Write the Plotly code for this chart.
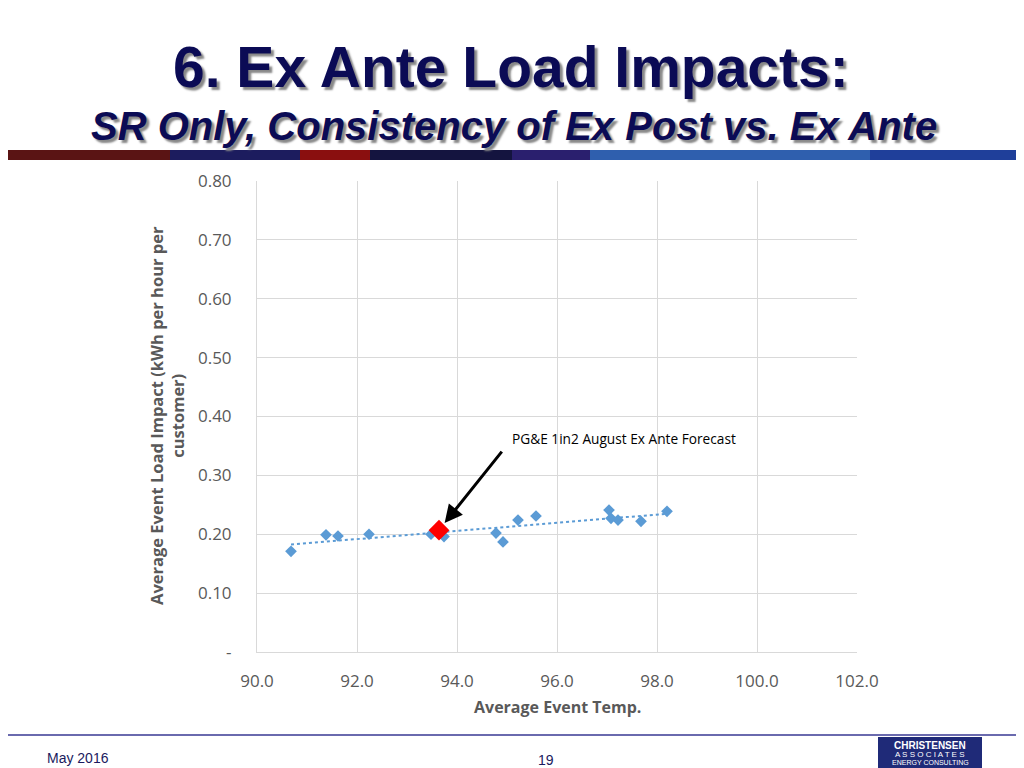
import numpy as np
import plotly.graph_objects as go

# ---- data ----
temps = [90.68, 91.38, 91.62, 92.24, 93.48, 93.74, 94.78, 94.92, 95.22, 95.58,
         97.04, 97.08, 97.22, 97.68, 98.20]
impacts = [0.171, 0.199, 0.197, 0.200, 0.200, 0.196, 0.202, 0.187, 0.224, 0.231,
           0.241, 0.227, 0.224, 0.222, 0.239]
forecast_temp = [93.64]
forecast_impact = [0.207]
x_ticks = [90, 92, 94, 96, 98, 100, 102]
x_tick_labels = ["90.0", "92.0", "94.0", "96.0", "98.0", "100.0", "102.0"]
y_ticks = [0, 0.1, 0.2, 0.3, 0.4, 0.5, 0.6, 0.7, 0.8]
y_tick_labels = ["-", "0.10", "0.20", "0.30", "0.40", "0.50", "0.60", "0.70", "0.80"]

# linear trendline through ex post points
slope, intercept = np.polyfit(temps, impacts, 1)
trend_x = [min(temps), max(temps)]
trend_y = [slope * v + intercept for v in trend_x]

# page offset of the figure (browser body margin)
OFF = 8
W, H = 1024 - OFF, 768 - OFF
L, R, T, B = 257, 857, 181, 652   # plot area in page pixels
pw, ph = R - L, B - T


def px(x):
    return (x - L) / pw


def py(y):
    return (B - y) / ph


fig = go.Figure()
fig.add_trace(go.Scatter(x=trend_x, y=trend_y, mode="lines",
                         line=dict(color="#5B9BD5", width=2, dash="dot"),
                         hoverinfo="skip", showlegend=False))
fig.add_trace(go.Scatter(x=temps, y=impacts, mode="markers",
                         marker=dict(symbol="diamond", size=9, color="#5B9BD5"),
                         showlegend=False))
fig.add_trace(go.Scatter(x=forecast_temp, y=forecast_impact, mode="markers",
                         marker=dict(symbol="diamond", size=16, color="#FF0000"),
                         showlegend=False))

tickfont = dict(family="Open Sans, Liberation Sans, sans-serif", size=17, color="#595959")
fig.update_xaxes(range=[90, 102], tickvals=x_ticks, ticktext=x_tick_labels,
                 showgrid=True, gridcolor="#D9D9D9", gridwidth=1,
                 showline=True, linecolor="#D9D9D9", linewidth=1,
                 zeroline=False, tickfont=tickfont, ticklabelstandoff=14,
                 mirror=False)
fig.update_yaxes(range=[0, 0.8], tickvals=y_ticks, ticktext=y_tick_labels,
                 showgrid=True, gridcolor="#D9D9D9", gridwidth=1,
                 showline=True, linecolor="#D9D9D9", linewidth=1,
                 zeroline=False, tickfont=tickfont, ticklabelstandoff=21)

title_color = "#0B0B55"
shapes = []
# decorative banner strip
banner = [(0, 170, "#5a1414"), (170, 300, "#1c1c5e"), (300, 370, "#8a0f0f"),
          (370, 512, "#14143f"), (512, 590, "#2a1f6e"), (590, 870, "#2f5fae"),
          (870, 1024, "#1f3f9a")]
for x0, x1, c in banner:
    shapes.append(dict(type="rect", xref="paper", yref="paper",
                       x0=px(x0), x1=px(x1), y0=py(160), y1=py(150),
                       fillcolor=c, line=dict(width=0), layer="above"))
# footer line
shapes.append(dict(type="line", xref="paper", yref="paper",
                   x0=px(0), x1=px(1024), y0=py(735), y1=py(735),
                   line=dict(color="#6A6AAE", width=2)))
# logo box
shapes.append(dict(type="rect", xref="paper", yref="paper",
                   x0=px(878), x1=px(982), y0=py(768), y1=py(737),
                   fillcolor="#1F2A78", line=dict(width=0)))
fig.update_layout(shapes=shapes)

ann = []
ann.append(dict(text="6. Ex Ante Load Impacts:", xref="paper", yref="paper",
                x=px(511), y=py(67), showarrow=False, xanchor="center", yanchor="middle",
                font=dict(family="Liberation Sans, Arial, sans-serif", size=57,
                          color=title_color, weight="bold",
                          shadow="3px 3px 2px #888888")))
ann.append(dict(text="<i>SR Only, Consistency of Ex Post vs. Ex Ante</i>", xref="paper",
                yref="paper", x=px(514), y=py(126), showarrow=False,
                xanchor="center", yanchor="middle",
                font=dict(family="Liberation Sans, Arial, sans-serif", size=40,
                          color=title_color, weight="bold",
                          shadow="3px 3px 2px #888888")))
ann.append(dict(text="Average Event Temp.", xref="paper", yref="paper",
                x=px(557), y=py(707), showarrow=False, xanchor="center", yanchor="middle",
                font=dict(family="Open Sans, sans-serif", size=16, color="#595959",
                          weight="bold")))
ann.append(dict(text="Average Event Load Impact (kWh per hour per<br>customer)",
                xref="paper", yref="paper", x=px(167), y=py(416), showarrow=False,
                xanchor="center", yanchor="middle", textangle=-90,
                font=dict(family="Open Sans, sans-serif", size=16.5, color="#595959",
                          weight="bold")))
ann.append(dict(text="PG&E 1in2 August Ex Ante Forecast", xref="paper", yref="paper",
                x=px(510), y=py(438), showarrow=False, xanchor="left", yanchor="middle",
                font=dict(family="Open Sans, sans-serif", size=13.7, color="#000000")))
ann.append(dict(text="", x=forecast_temp[0], y=forecast_impact[0], xref="x", yref="y",
                showarrow=True, arrowhead=2, arrowsize=1.2, arrowwidth=3,
                arrowcolor="#000000", ax=64, ay=-80, standoff=9))
ann.append(dict(text="May 2016", xref="paper", yref="paper", x=px(45), y=py(758),
                showarrow=False, xanchor="left", yanchor="middle",
                font=dict(family="Liberation Sans, Arial, sans-serif", size=14,
                          color="#1A1A5E")))
ann.append(dict(text="19", xref="paper", yref="paper", x=px(546), y=py(760),
                showarrow=False, xanchor="center", yanchor="middle",
                font=dict(family="Liberation Sans, Arial, sans-serif", size=14,
                          color="#1A1A5E")))
ann.append(dict(text="<b>CHRISTENSEN</b>", xref="paper", yref="paper", x=px(930), y=py(745),
                showarrow=False, xanchor="center", yanchor="middle",
                font=dict(family="Liberation Sans, Arial, sans-serif", size=10,
                          color="#FFFFFF")))
ann.append(dict(text="A S S O C I A T E S", xref="paper", yref="paper", x=px(930),
                y=py(754), showarrow=False, xanchor="center", yanchor="middle",
                font=dict(family="Liberation Sans, Arial, sans-serif", size=8,
                          color="#FFFFFF")))
ann.append(dict(text="ENERGY CONSULTING", xref="paper", yref="paper", x=px(930),
                y=py(762), showarrow=False, xanchor="center", yanchor="middle",
                font=dict(family="Liberation Sans, Arial, sans-serif", size=7,
                          color="#FFFFFF")))

fig.update_layout(annotations=ann, width=W, height=H, autosize=False,
                  margin=dict(l=L - OFF, r=W - (R - OFF), t=T - OFF, b=H - (B - OFF), pad=0),
                  paper_bgcolor="white", plot_bgcolor="white",
                  showlegend=False)

fig.write_html("out.html")
